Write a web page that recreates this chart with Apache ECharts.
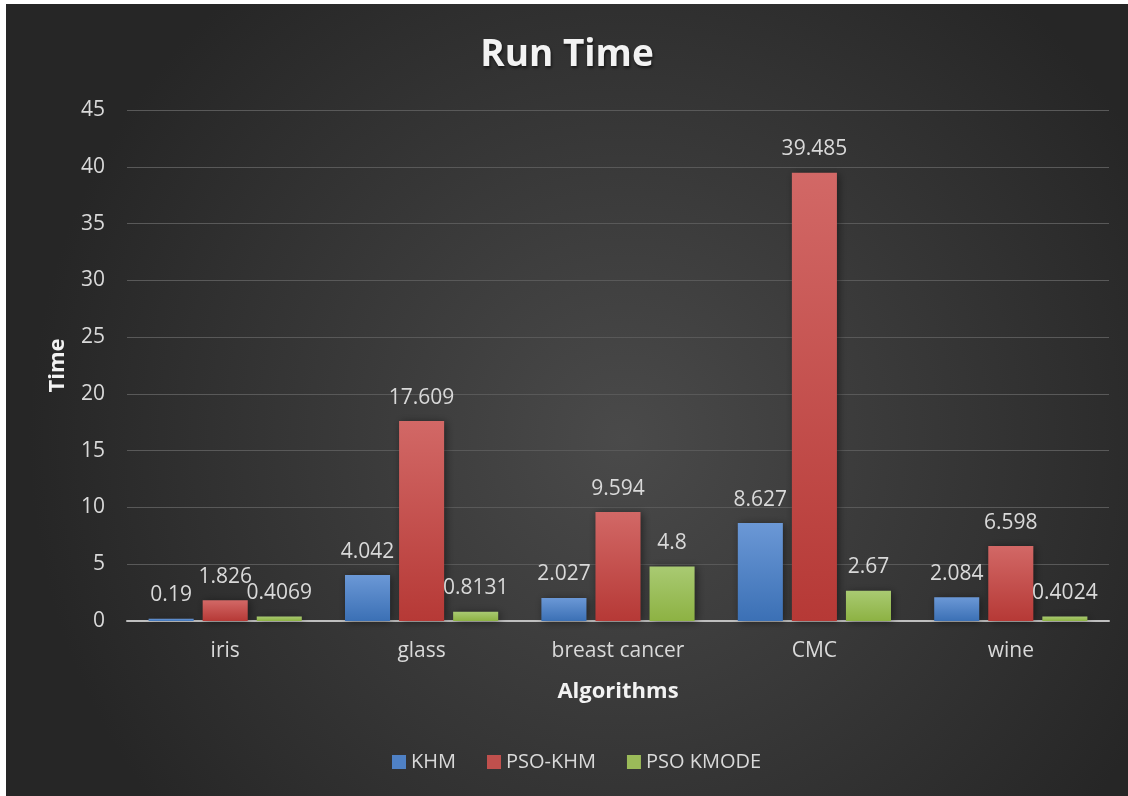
<!DOCTYPE html>
<html><head><meta charset="utf-8">
<script src="https://cdn.jsdelivr.net/npm/echarts@6/dist/echarts.min.js"></script>
<style>
html,body{margin:0;padding:0;background:#fff;width:1128px;height:796px;overflow:hidden}
#c{position:absolute;left:6px;top:4px;width:1122px;height:792px}
</style></head>
<body><div id="c"></div>
<script>
const categories = ['iris','glass','breast cancer','CMC','wine'];
const khm = [0.19, 4.042, 2.027, 8.627, 2.084];
const psoKhm = [1.826, 17.609, 9.594, 39.485, 6.598];
const psoKmode = [0.4069, 0.8131, 4.8, 2.67, 0.4024];
const seriesNames = ['KHM','PSO-KHM','PSO KMODE'];
const yTicks = {min:0, max:45, interval:5};

const FONT = '"Open Sans", "Noto Sans", sans-serif';
function grad(top, bottom){
  return {type:'linear',x:0,y:0,x2:0,y2:1,colorStops:[{offset:0,color:top},{offset:1,color:bottom}]};
}
const colors = [grad('#6b98d6','#3b70b5'), grad('#d26866','#b63936'), grad('#a9ca72','#8db243')];
const legendColors = ['#4f81c5','#c0504d','#9bbb59'];

const chart = echarts.init(document.getElementById('c'));
function mk(name, data, i){
  return {
    name, type:'bar', data,
    barGap:'20%', barCategoryGap:'22%',
    itemStyle:{color:colors[i], shadowColor:'rgba(0,0,0,0.45)', shadowBlur:8, shadowOffsetX:2, shadowOffsetY:1},
    label:{show:true, position:'top', distance:13, color:'#d9d9d9', fontFamily:FONT, fontSize:21,
      formatter:p=>String(p.value)},
    emphasis:{disabled:true}
  };
}
chart.setOption({
  backgroundColor:{type:'radial', x:0.55, y:0.55, r:0.75, colorStops:[{offset:0,color:'#4a4a4a'},{offset:1,color:'#262626'}]},
  animation:false,
  color:legendColors,
  title:{text:'Run Time', left:'center', top:28,
    textStyle:{color:'#f2f2f2', fontFamily:FONT, fontWeight:'bold', fontSize:37,
      textShadowColor:'rgba(0,0,0,0.6)', textShadowBlur:3, textShadowOffsetX:1, textShadowOffsetY:2}},
  legend:{bottom:19, left:381, itemWidth:14, itemHeight:14, itemGap:31,
    icon:'rect',
    data:seriesNames.map((n,i)=>({name:n, itemStyle:{color:legendColors[i]}})),
    textStyle:{color:'#d9d9d9', fontFamily:FONT, fontSize:20}},
  grid:{left:121, right:19, top:106, bottom:175, containLabel:false},
  xAxis:{type:'category', data:categories,
    name:'Algorithms', nameLocation:'middle', nameGap:60,
    nameTextStyle:{color:'#f2f2f2', fontFamily:FONT, fontWeight:'bold', fontSize:22},
    axisLine:{lineStyle:{color:'#bfbfbf', width:2}},
    axisTick:{show:false},
    axisLabel:{color:'#d9d9d9', fontFamily:FONT, fontSize:21, margin:20}},
  yAxis:{type:'value', min:yTicks.min, max:yTicks.max, interval:yTicks.interval,
    name:'Time', nameLocation:'middle', nameGap:58, nameRotate:90,
    nameTextStyle:{color:'#f2f2f2', fontFamily:FONT, fontWeight:'bold', fontSize:22},
    axisLine:{show:false}, axisTick:{show:false},
    axisLabel:{color:'#d9d9d9', fontFamily:FONT, fontSize:21, margin:22},
    splitLine:{lineStyle:{color:'#595959', width:1}}},
  series:[mk(seriesNames[0],khm,0), mk(seriesNames[1],psoKhm,1), mk(seriesNames[2],psoKmode,2)]
});
</script></body></html>
